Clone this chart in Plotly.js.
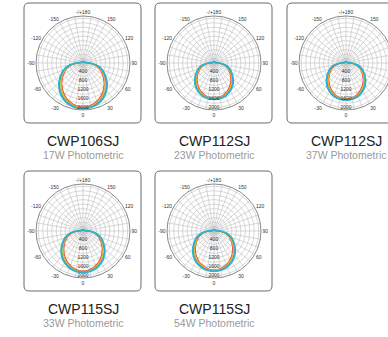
<!DOCTYPE html>
<html><head><meta charset="utf-8">
<script src="https://cdn.plot.ly/plotly-3.0.1.min.js"></script>
<style>html,body{margin:0;padding:0;overflow:hidden;background:#fff}#chart{width:400px;height:337px}</style>
</head><body><div id="chart"></div>
<script>
// ---- data ----
const models = ["CWP106SJ", "CWP112SJ", "CWP112SJ", "CWP115SJ", "CWP115SJ"];
const subtitles = ["17W Photometric", "23W Photometric", "37W Photometric", "33W Photometric", "54W Photometric"];
const angleTickVals = [0,30,60,90,120,150,180,210,240,270,300,330];
const angleTickText = ["0","30","60","90","120","150","-/+180","-150","-120","-90","-60","-30"];
const radialLabelVals = [400, 800, 1200, 1600, 2000];
const radialLabelText = ["400", "800", "1200", "1600", "2000"];
const radialGrid = [200,400,600,800,1000,1200,1400,1600,1800,2000];
const radialMax = 2100;
const angles = [0,10,20,30,40,50,60,70,80,90,100,120,150,180];
const seriesNames = ["C90", "C67.5", "C45", "C22.5", "C0"];
const seriesColors = ["#e5452f", "#f3a43a", "#8dc63f", "#3f6fc6", "#2bb5d3"];
// intensity per panel, per series (red, orange, green, blue, cyan), at `angles`
const p1red    = [1979,1928,1816,1652,1448,1224,1000,785,530,245,82,61,51,51];
const p1orange = [1999,1958,1856,1703,1499,1275,1040,826,561,265,92,61,51,51];
const p1green  = [2020,1989,1897,1754,1561,1336,1102,877,602,286,102,71,61,61];
const p1blue   = [2040,2009,1928,1795,1612,1387,1142,918,632,306,112,82,61,61];
const p1cyan   = [2040,2020,1948,1816,1632,1408,1163,938,653,326,122,82,61,61];
const p2red    = [1581,1540,1451,1320,1157,978,799,628,424,196,65,49,41,41];
const p2orange = [1597,1565,1483,1361,1198,1019,831,660,448,212,73,49,41,41];
const p2green  = [1614,1589,1516,1402,1247,1068,880,701,481,228,82,57,49,49];
const p2blue   = [1630,1606,1540,1434,1288,1108,913,734,505,245,90,65,49,49];
const p2cyan   = [1630,1614,1557,1451,1304,1125,929,750,522,261,98,65,49,49];
const p3red    = [1610,1569,1477,1345,1179,996,813,639,432,199,66,50,42,42];
const p3orange = [1627,1594,1511,1386,1220,1038,847,672,457,216,75,50,42,42];
const p3green  = [1643,1619,1544,1428,1270,1087,896,714,490,232,83,58,50,50];
const p3blue   = [1660,1635,1569,1461,1311,1129,930,747,515,249,91,66,50,50];
const p3cyan   = [1660,1643,1585,1477,1328,1145,946,764,531,266,100,66,50,50];
const p4red    = [1795,1748,1647,1499,1314,1110,907,712,481,222,74,56,46,46];
const p4orange = [1813,1776,1684,1545,1360,1156,944,749,509,241,83,56,46,46];
const p4green  = [1832,1804,1721,1591,1415,1212,999,796,546,259,93,65,56,56];
const p4blue   = [1850,1822,1748,1628,1462,1258,1036,833,574,278,102,74,56,56];
const p4cyan   = [1850,1832,1767,1647,1480,1277,1055,851,592,296,111,74,56,56];
const p5red    = [1746,1701,1602,1458,1278,1080,882,693,468,216,72,54,45,45];
const p5orange = [1764,1728,1638,1503,1323,1125,918,729,495,234,81,54,45,45];
const p5green  = [1782,1755,1674,1548,1377,1179,972,774,531,252,90,63,54,54];
const p5blue   = [1800,1773,1701,1584,1422,1224,1008,810,558,270,99,72,54,54];
const p5cyan   = [1800,1782,1719,1602,1440,1242,1026,828,576,288,108,72,54,54];
const panels = [
  [p1red,p1orange,p1green,p1blue,p1cyan],
  [p2red,p2orange,p2green,p2blue,p2cyan],
  [p3red,p3orange,p3green,p3blue,p3cyan],
  [p4red,p4orange,p4green,p4blue,p4cyan],
  [p5red,p5orange,p5green,p5blue,p5cyan]
];

// ---- layout geometry (pixels) ----
const W = 400, H = 337;
const centers = [[83,63],[214,63],[346,63],[83,231],[214,231]];
const R = 47;
const px = x => x / W, py = y => 1 - y / H;

const traces = [];
const layout = {
  width: W, height: H, margin: {l:0,r:0,t:0,b:0},
  paper_bgcolor: "#fff", showlegend: false,
  font: {family: "Liberation Sans, Arial, sans-serif"},
  shapes: [], annotations: []
};

const gridTickVals = [];
for (let a = 0; a < 360; a += 10) gridTickVals.push(a);
const gridTickText = gridTickVals.map(a => { const i = angleTickVals.indexOf(a); return i >= 0 ? angleTickText[i] : ""; });

panels.forEach((series, p) => {
  const key = p === 0 ? "polar" : "polar" + (p + 1);
  const [cx, cy] = centers[p];
  layout[key] = {
    domain: {x: [px(cx - R), px(cx + R)], y: [py(cy + R), py(cy - R)]},
    bgcolor: "rgba(0,0,0,0)",
    radialaxis: {range: [0, radialMax], tickvals: radialGrid, showticklabels: false, ticks: "",
      showline: false, gridcolor: "#bdbdbd", gridwidth: 0.6},
    angularaxis: {rotation: -90, direction: "counterclockwise", tickvals: gridTickVals, ticktext: gridTickText,
      ticks: "", tickfont: {size: 5, color: "#333"}, gridcolor: "#bdbdbd", gridwidth: 0.6,
      showline: true, linecolor: "#8a8a8a", linewidth: 1}
  };
  series.forEach((vals, s) => {
    const th = [], rr = [];
    for (let i = angles.length - 1; i > 0; i--) { th.push(-angles[i]); rr.push(vals[i]); }
    for (let i = 0; i < angles.length; i++) { th.push(angles[i]); rr.push(vals[i]); }
    traces.push({type: "scatterpolar", subplot: key, mode: "lines", theta: th, r: rr, name: seriesNames[s],
      line: {color: seriesColors[s], width: s === 4 ? 1.6 : 1.1, shape: "spline", smoothing: 0.8}, hoverinfo: "skip"});
  });
  traces.push({type: "scatterpolar", subplot: key, mode: "text", theta: radialLabelVals.map(() => 0),
    r: radialLabelVals, text: radialLabelText, textfont: {size: 5, color: "#333"}, hoverinfo: "skip"});

  // rounded frame
  const x0 = cx - 59, x1 = cx + 58, y0 = cy - 60, y1 = cy + 60, rc = 5;
  const path = `M ${px(x0+rc)},${py(y0)} L ${px(x1-rc)},${py(y0)} Q ${px(x1)},${py(y0)} ${px(x1)},${py(y0+rc)} ` +
    `L ${px(x1)},${py(y1-rc)} Q ${px(x1)},${py(y1)} ${px(x1-rc)},${py(y1)} L ${px(x0+rc)},${py(y1)} ` +
    `Q ${px(x0)},${py(y1)} ${px(x0)},${py(y1-rc)} L ${px(x0)},${py(y0+rc)} Q ${px(x0)},${py(y0)} ${px(x0+rc)},${py(y0)} Z`;
  layout.shapes.push({type: "path", xref: "paper", yref: "paper", path: path, line: {color: "#6b6b6b", width: 1}});

  layout.annotations.push({xref: "paper", yref: "paper", x: px(cx), y: py(cy + 78), text: models[p],
    showarrow: false, font: {size: 14, color: "#222"}, xanchor: "center", yanchor: "middle"});
  layout.annotations.push({xref: "paper", yref: "paper", x: px(cx), y: py(cy + 92), text: subtitles[p],
    showarrow: false, font: {size: 10.5, color: "#9a9a9a"}, xanchor: "center", yanchor: "middle"});
});

Plotly.newPlot("chart", traces, layout, {staticPlot: true, displayModeBar: false});
</script></body></html>
